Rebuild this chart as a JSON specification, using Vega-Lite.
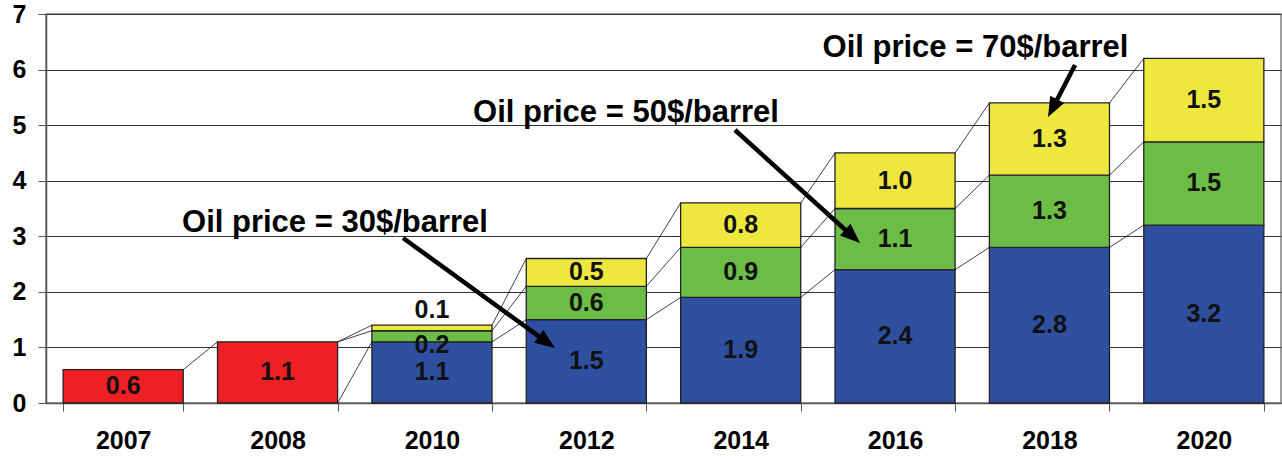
{
  "$schema": "https://vega.github.io/schema/vega-lite/v6.json",
  "width": 1235,
  "height": 389,
  "autosize": {"type": "none"},
  "padding": {"left": 46, "top": 14, "right": 1, "bottom": 53},
  "background": "white",
  "config": {
    "view": {"stroke": "#808080", "strokeWidth": 1.5},
    "font": "Liberation Sans"
  },
  "datasets": {
    "bars": [
      {"year": "2007", "series": "Red", "value": 0.6},
      {"year": "2008", "series": "Red", "value": 1.1},
      {"year": "2010", "series": "Blue", "value": 1.1},
      {"year": "2010", "series": "Green", "value": 0.2},
      {"year": "2010", "series": "Yellow", "value": 0.1},
      {"year": "2012", "series": "Blue", "value": 1.5},
      {"year": "2012", "series": "Green", "value": 0.6},
      {"year": "2012", "series": "Yellow", "value": 0.5},
      {"year": "2014", "series": "Blue", "value": 1.9},
      {"year": "2014", "series": "Green", "value": 0.9},
      {"year": "2014", "series": "Yellow", "value": 0.8},
      {"year": "2016", "series": "Blue", "value": 2.4},
      {"year": "2016", "series": "Green", "value": 1.1},
      {"year": "2016", "series": "Yellow", "value": 1.0},
      {"year": "2018", "series": "Blue", "value": 2.8},
      {"year": "2018", "series": "Green", "value": 1.3},
      {"year": "2018", "series": "Yellow", "value": 1.3},
      {"year": "2020", "series": "Blue", "value": 3.2},
      {"year": "2020", "series": "Green", "value": 1.5},
      {"year": "2020", "series": "Yellow", "value": 1.5}
    ],
    "links": [
      {"from": "2007", "to": "2008", "y1": 0.6, "y2": 1.1},
      {"from": "2008", "to": "2010", "y1": 1.1, "y2": 1.4},
      {"from": "2008", "to": "2010", "y1": 1.1, "y2": 1.3},
      {"from": "2008", "to": "2010", "y1": 0, "y2": 1.1},
      {"from": "2010", "to": "2012", "y1": 1.1, "y2": 1.5},
      {"from": "2010", "to": "2012", "y1": 1.3, "y2": 2.1},
      {"from": "2010", "to": "2012", "y1": 1.4, "y2": 2.6},
      {"from": "2012", "to": "2014", "y1": 1.5, "y2": 1.9},
      {"from": "2012", "to": "2014", "y1": 2.1, "y2": 2.8},
      {"from": "2012", "to": "2014", "y1": 2.6, "y2": 3.6},
      {"from": "2014", "to": "2016", "y1": 1.9, "y2": 2.4},
      {"from": "2014", "to": "2016", "y1": 2.8, "y2": 3.5},
      {"from": "2014", "to": "2016", "y1": 3.6, "y2": 4.5},
      {"from": "2016", "to": "2018", "y1": 2.4, "y2": 2.8},
      {"from": "2016", "to": "2018", "y1": 3.5, "y2": 4.1},
      {"from": "2016", "to": "2018", "y1": 4.5, "y2": 5.4},
      {"from": "2018", "to": "2020", "y1": 2.8, "y2": 3.2},
      {"from": "2018", "to": "2020", "y1": 4.1, "y2": 4.7},
      {"from": "2018", "to": "2020", "y1": 5.4, "y2": 6.2}
    ],
    "notes": [
      {"label": "Oil price = 30$/barrel", "u": 1.872, "v": 3.077},
      {"label": "Oil price = 50$/barrel", "u": 3.757, "v": 5.062},
      {"label": "Oil price = 70$/barrel", "u": 6.021, "v": 6.232}
    ],
    "arrows": [
      {"u0": 2.313, "v0": 2.969, "u1": 3.213, "v1": 1.159, "ut": 3.297, "vt": 0.99, "ang": 125.9},
      {"u0": 4.463, "v0": 4.913, "u1": 5.195, "v1": 3.072, "ut": 5.273, "vt": 2.879, "ang": 132.1},
      {"u0": 6.666, "v0": 6.082, "u1": 6.539, "v1": 5.402, "ut": 6.491, "vt": 5.147, "ang": 207.4}
    ]
  },
  "layer": [
    {
      "layer": [
        {
          "data": {"name": "bars"},
          "transform": [
            {"stack": "value", "groupby": ["year"], "sort": [{"field": "series", "order": "ascending"}], "as": ["s0", "s1"]}
          ],
          "mark": {"type": "bar", "stroke": "#222", "strokeWidth": 1.3},
          "encoding": {
            "x": {
              "field": "year", "type": "nominal",
              "scale": {"domain": ["2007", "2008", "2010", "2012", "2014", "2016", "2018", "2020"], "paddingInner": 0.222, "paddingOuter": 0.111},
              "axis": {
                "title": null, "labelAngle": 0, "labelFont": "Liberation Sans", "labelFontSize": 25, "labelFontWeight": "bold",
                "labelColor": "#000", "labelPadding": 17, "tickBand": "extent", "tickSize": 8, "tickColor": "#555",
                "domainColor": "#555", "domainWidth": 1.5, "grid": false
              }
            },
            "y": {
              "field": "s0", "type": "quantitative",
              "scale": {"domain": [0, 7], "nice": false},
              "axis": {
                "title": null, "values": [0, 1, 2, 3, 4, 5, 6, 7], "format": "d", "labelFont": "Liberation Sans", "labelFontSize": 25,
                "labelFontWeight": "bold", "labelColor": "#000", "labelPadding": 12, "tickSize": 8, "tickColor": "#555",
                "domainColor": "#555", "domainWidth": 1.5, "grid": true, "gridColor": "#333", "gridWidth": 1
              }
            },
            "y2": {"field": "s1"},
            "color": {
              "field": "series", "type": "nominal",
              "scale": {"domain": ["Red", "Blue", "Green", "Yellow"], "range": ["#EE2024", "#2F4FA1", "#6CBD45", "#EEE83E"]},
              "legend": null
            }
          }
        },
        {
          "data": {"name": "links"},
          "mark": {"type": "rule", "color": "#111", "strokeWidth": 0.8},
          "encoding": {
            "x": {"field": "from", "type": "nominal", "bandPosition": 1, "scale": {"domain": ["2007", "2008", "2010", "2012", "2014", "2016", "2018", "2020"], "paddingInner": 0.222, "paddingOuter": 0.111}},
            "x2": {"field": "to", "bandPosition": 0},
            "y": {"field": "y1", "type": "quantitative"},
            "y2": {"field": "y2"}
          }
        },
        {
          "data": {"name": "bars"},
          "transform": [
            {"stack": "value", "groupby": ["year"], "sort": [{"field": "series", "order": "ascending"}], "as": ["s0", "s1"]},
            {"calculate": "(datum.s0 + datum.s1) / 2", "as": "mid"},
            {"filter": "datum.year != '2010' || datum.series == 'Blue'"}
          ],
          "mark": {"type": "text", "font": "Liberation Sans", "fontSize": 25, "fontWeight": "bold", "color": "#111", "baseline": "middle", "align": "center"},
          "encoding": {
            "x": {"field": "year", "type": "nominal"},
            "y": {"field": "mid", "type": "quantitative"},
            "text": {"field": "value", "type": "quantitative", "format": ".1f"}
          }
        },
        {
          "data": {"name": "bars"},
          "transform": [
            {"stack": "value", "groupby": ["year"], "sort": [{"field": "series", "order": "ascending"}], "as": ["s0", "s1"]},
            {"calculate": "(datum.s0 + datum.s1) / 2", "as": "mid"},
            {"filter": "datum.year == '2010' && datum.series == 'Green'"}
          ],
          "mark": {"type": "text", "font": "Liberation Sans", "fontSize": 25, "fontWeight": "bold", "color": "#111", "baseline": "middle", "align": "center", "dy": 9},
          "encoding": {
            "x": {"field": "year", "type": "nominal"},
            "y": {"field": "mid", "type": "quantitative"},
            "text": {"field": "value", "type": "quantitative", "format": ".1f"}
          }
        },
        {
          "data": {"name": "bars"},
          "transform": [
            {"stack": "value", "groupby": ["year"], "sort": [{"field": "series", "order": "ascending"}], "as": ["s0", "s1"]},
            {"calculate": "(datum.s0 + datum.s1) / 2", "as": "mid"},
            {"filter": "datum.year == '2010' && datum.series == 'Yellow'"}
          ],
          "mark": {"type": "text", "font": "Liberation Sans", "fontSize": 25, "fontWeight": "bold", "color": "#111", "baseline": "middle", "align": "center", "dy": -17.5},
          "encoding": {
            "x": {"field": "year", "type": "nominal"},
            "y": {"field": "mid", "type": "quantitative"},
            "text": {"field": "value", "type": "quantitative", "format": ".1f"}
          }
        }
      ]
    },
    {
      "layer": [
        {
          "data": {"name": "notes"},
          "mark": {"type": "text", "font": "Liberation Sans", "fontSize": 31, "fontWeight": "bold", "color": "#000", "align": "center", "baseline": "alphabetic"},
          "encoding": {
            "x": {"field": "u", "type": "quantitative", "scale": {"domain": [0, 8], "nice": false, "zero": false}, "axis": null},
            "y": {"field": "v", "type": "quantitative", "axis": null},
            "text": {"field": "label", "type": "nominal"}
          }
        },
        {
          "data": {"name": "arrows"},
          "mark": {"type": "rule", "color": "#000", "strokeWidth": 4.5, "strokeCap": "butt"},
          "encoding": {
            "x": {"field": "u0", "type": "quantitative", "scale": {"domain": [0, 8], "nice": false, "zero": false}, "axis": null},
            "y": {"field": "v0", "type": "quantitative", "axis": null},
            "x2": {"field": "u1"},
            "y2": {"field": "v1"}
          }
        },
        {
          "data": {"name": "arrows"},
          "mark": {"type": "point", "shape": "M0,0L-0.75,1.9L0.75,1.9Z", "filled": true, "color": "#000", "opacity": 1, "size": 441},
          "encoding": {
            "x": {"field": "ut", "type": "quantitative", "scale": {"domain": [0, 8], "nice": false, "zero": false}, "axis": null},
            "y": {"field": "vt", "type": "quantitative", "axis": null},
            "angle": {"field": "ang", "type": "quantitative", "scale": null}
          }
        }
      ]
    }
  ],
  "resolve": {"scale": {"x": "independent"}, "axis": {"y": "independent"}}
}
